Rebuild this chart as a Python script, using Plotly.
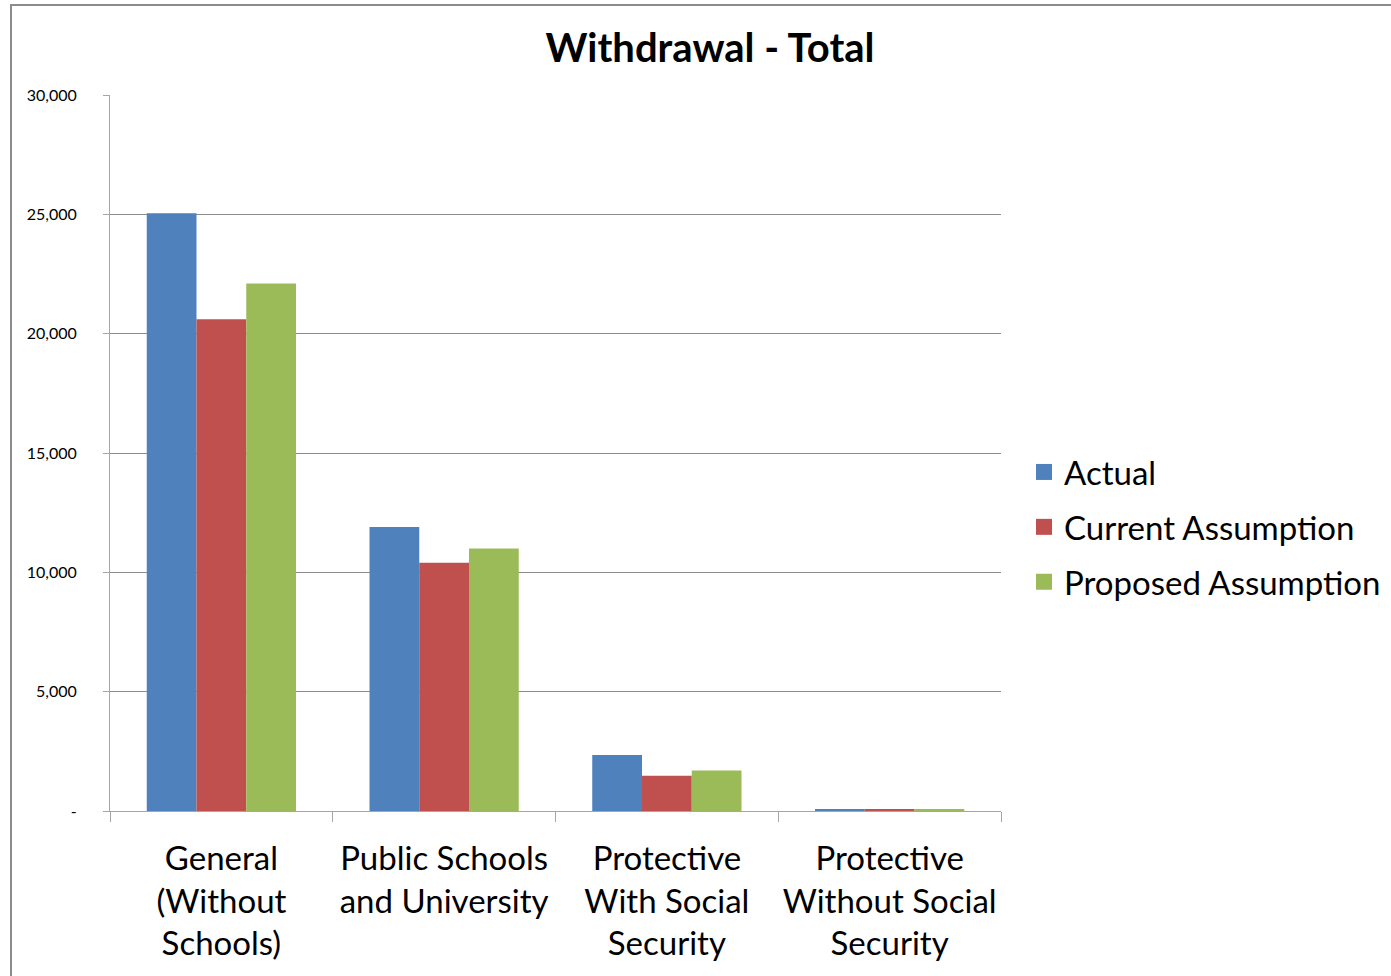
import plotly.graph_objects as go

# Withdrawal counts by plan category
categories = [
    "General<br>(Without<br>Schools)",
    "Public Schools<br>and University",
    "Protective<br>With Social<br>Security",
    "Protective<br>Without Social<br>Security",
]
actual = [25050, 11900, 2350, 70]
current_assumption = [20600, 10400, 1480, 70]
proposed_assumption = [22100, 11000, 1700, 60]

y_tickvals = [0, 5000, 10000, 15000, 20000, 25000, 30000]
y_ticktext = ["-", "5,000", "10,000", "15,000", "20,000", "25,000", "30,000"]

series = [
    ("Actual", actual, "#4F81BD"),
    ("Current Assumption", current_assumption, "#C0504D"),
    ("Proposed Assumption", proposed_assumption, "#9BBB59"),
]

FONT = "Lato, 'Noto Sans', sans-serif"

fig = go.Figure()
for name, values, color in series:
    fig.add_trace(go.Bar(
        x=categories, y=values, name=name,
        marker=dict(color=color, line=dict(width=0)),
        legendgroup=name, showlegend=False,
    ))
    # legend entry with a larger square swatch
    fig.add_trace(go.Scatter(
        x=[None], y=[None], mode="markers", name=name,
        marker=dict(symbol="square", size=20, color=color),
        legendgroup=name, showlegend=True, hoverinfo="skip",
    ))

W, H = 1391, 976
L, R, T, B = 110, 390, 95, 165
pw, ph = W - L - R, H - T - B

def px_x(x):
    return (x - L) / pw

def px_y(y):
    return (H - B - y) / ph

fig.update_layout(
    width=W, height=H,
    margin=dict(l=L, r=R, t=T, b=B, autoexpand=False),
    paper_bgcolor="white", plot_bgcolor="white",
    barmode="group", bargap=0.33, bargroupgap=0,
    font=dict(family=FONT, color="black"),
    title=dict(
        text="<b>Withdrawal - Total</b>",
        x=710 / W, xref="container", xanchor="center",
        y=1 - 48 / H, yref="container", yanchor="middle",
        font=dict(size=40, family=FONT, color="black"),
    ),
    showlegend=True,
    legend=dict(
        x=px_x(1024), xanchor="left",
        y=px_y(527), yanchor="middle",
        font=dict(size=33, family=FONT, color="black"),
        tracegroupgap=9,
        bgcolor="rgba(0,0,0,0)",
    ),
    xaxis=dict(
        showline=True, linecolor="#a6a6a6", linewidth=1,
        ticks="outside", tickson="boundaries", ticklen=10, tickcolor="#a6a6a6",
        ticklabelstandoff=18, tickangle=0, automargin=False,
        tickfont=dict(size=33, family=FONT, color="black"),
        showgrid=False,
    ),
    yaxis=dict(
        range=[0, 30000],
        tickvals=y_tickvals, ticktext=y_ticktext,
        showline=True, linecolor="#a6a6a6", linewidth=1,
        ticks="outside", ticklen=6, tickcolor="#a6a6a6",
        ticklabelstandoff=23, automargin=False,
        tickfont=dict(size=16, family=FONT, color="black"),
        showgrid=True, gridcolor="#8c8c8c", gridwidth=1,
        zeroline=False,
    ),
    shapes=[dict(
        type="rect", xref="paper", yref="paper",
        x0=px_x(11), x1=px_x(1420), y0=px_y(5), y1=px_y(1000),
        line=dict(color="#8c8c8c", width=2), fillcolor="rgba(0,0,0,0)",
        layer="below",
    )],
)

fig.write_html("out.html")
